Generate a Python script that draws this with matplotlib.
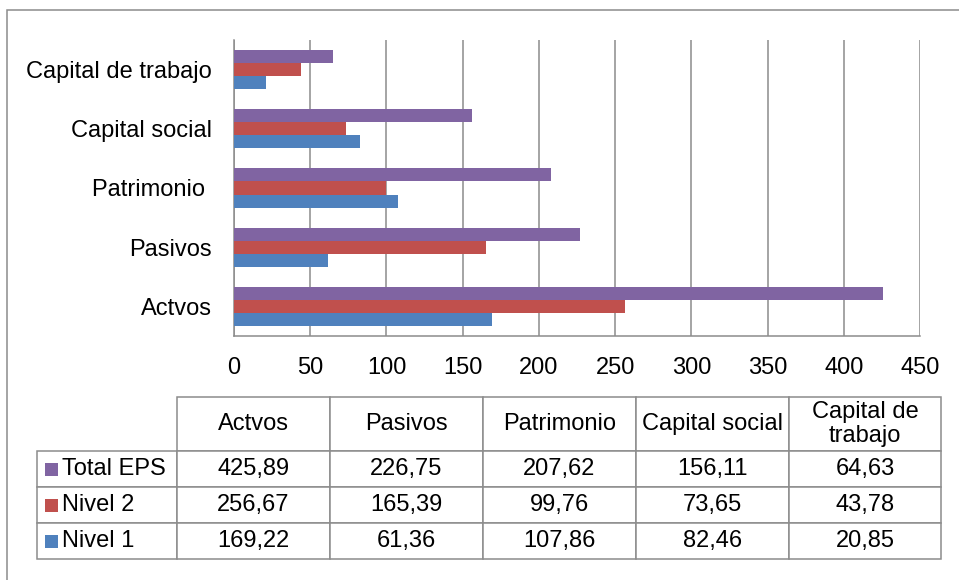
import matplotlib
matplotlib.use("Agg")
import matplotlib.pyplot as plt
from matplotlib.table import Table
from matplotlib.patches import Rectangle

plt.rcParams['font.family'] = ['Liberation Sans', 'DejaVu Sans']

# Data
categories = ["Actvos", "Pasivos", "Patrimonio", "Capital social", "Capital de trabajo"]
axis_labels = ["Actvos", "Pasivos", "Patrimonio ", "Capital social", "Capital de trabajo"]
table_headers = ["Actvos", "Pasivos", "Patrimonio", "Capital social", "Capital de\ntrabajo"]
series_names = ["Total EPS", "Nivel 2", "Nivel 1"]
total_eps = [425.89, 226.75, 207.62, 156.11, 64.63]
nivel_2 = [256.67, 165.39, 99.76, 73.65, 43.78]
nivel_1 = [169.22, 61.36, 107.86, 82.46, 20.85]
x_ticks = [0, 50, 100, 150, 200, 250, 300, 350, 400, 450]

colors = {"Total EPS": "#8064A2", "Nivel 2": "#C0504D", "Nivel 1": "#4F81BD"}
grid_color = "#8C8C8C"
fs = 17

W, H = 959, 580
fig = plt.figure(figsize=(W / 100, H / 100), dpi=100)

def fx(px):
    return px / W

def fy(py):
    return 1 - py / H

# Outer chart frame (only left and top edges fall inside the canvas)
fig.patches.append(Rectangle((fx(7), -0.2), 1.2, fy(10) + 0.2, transform=fig.transFigure,
                             fill=False, edgecolor=grid_color, lw=1.1))

# Bar chart
ax = fig.add_axes([fx(234), fy(336), fx(920) - fx(234), fy(40) - fy(336)])
bh = 0.22
ypos = list(range(len(categories)))
ax.barh([y - bh for y in ypos], nivel_1, height=bh, color=colors["Nivel 1"], zorder=3)
ax.barh(ypos, nivel_2, height=bh, color=colors["Nivel 2"], zorder=3)
ax.barh([y + bh for y in ypos], total_eps, height=bh, color=colors["Total EPS"], zorder=3)

ax.set_xlim(0, 450)
ax.set_ylim(-0.5, len(categories) - 0.5)
ax.set_xticks(x_ticks)
ax.set_xticklabels([str(t) for t in x_ticks], fontsize=fs)
ax.set_yticks(ypos)
ax.set_yticklabels(axis_labels, fontsize=fs)
ax.tick_params(axis='x', length=0, pad=15)
ax.tick_params(axis='y', length=0, pad=16)
ax.grid(axis='x', color=grid_color, lw=1.1, zorder=0)
for side in ("top", "right"):
    ax.spines[side].set_visible(False)
for side in ("left", "bottom"):
    ax.spines[side].set_color(grid_color)
    ax.spines[side].set_linewidth(1.1)

# Data table below the chart
tl, tr, tt, tb = 37, 941, 397, 559
tax = fig.add_axes([fx(tl), fy(tb), fx(tr) - fx(tl), fy(tt) - fy(tb)])
tax.set_axis_off()

col_w = [140, 153, 153, 153, 153, 152]
row_h = [54, 36, 36, 36]
tw, th = sum(col_w), sum(row_h)

tbl = Table(tax, bbox=[0, 0, 1, 1])
rows_values = [total_eps, nivel_2, nivel_1]
for c, head in enumerate(table_headers):
    tbl.add_cell(0, c + 1, width=col_w[c + 1] / tw, height=row_h[0] / th,
                 text=head, loc='center')
for r, vals in enumerate(rows_values):
    tbl.add_cell(r + 1, 0, width=col_w[0] / tw, height=row_h[r + 1] / th, text="")
    for c, v in enumerate(vals):
        tbl.add_cell(r + 1, c + 1, width=col_w[c + 1] / tw, height=row_h[r + 1] / th,
                     text=f"{v:.2f}".replace(".", ","), loc='center')
tbl.auto_set_font_size(False)
tbl.set_fontsize(fs)
for key, cell in tbl.get_celld().items():
    cell.set_edgecolor(grid_color)
    cell.set_linewidth(1.1)
    cell.get_text().set_linespacing(1.1)
tax.add_table(tbl)

# Legend keys and series names in the first column
y_top = th - row_h[0]
for r, name in enumerate(series_names):
    yc = y_top - row_h[r + 1] * (r + 0.5)
    key = 13
    tax.add_patch(Rectangle((8 / tw, (yc - key / 2) / th), key / tw, key / th,
                            transform=tax.transAxes, facecolor=colors[name],
                            edgecolor='none', clip_on=False))
    tax.text(25 / tw, yc / th, name, transform=tax.transAxes, fontsize=fs,
             va='center', ha='left')

fig.savefig("out.png", dpi=100)
